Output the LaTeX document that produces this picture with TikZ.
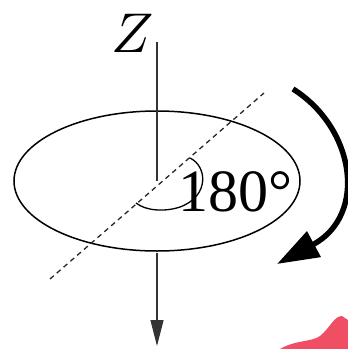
\documentclass[tikz,border=0pt]{standalone}
\usepackage{fontspec}
\setmainfont{Liberation Serif}
\usetikzlibrary{arrows.meta}
\definecolor{blobred}{RGB}{240,78,100}
\begin{document}
\begin{tikzpicture}[x=1pt,y=-1pt,
  thinline/.style={line width=1.5pt,black},
  axisline/.style={line width=1.3pt,black!80},
  dashline/.style={line width=1.3pt,black!85,dash pattern=on 5pt off 4pt},
  bigarrow/.style={line width=5.5pt,black,-{Triangle[length=42pt,width=28pt]}},
  lbl/.style={inner sep=0pt}]
\useasboundingbox (0,0) rectangle (348,349);
% red blob (corner artifact)
\fill[blobred] (280,349) .. controls (295,340) and (312,342) .. (320,336)
  .. controls (330,328) and (334,316) .. (342,316) -- (348,320) -- (348,349) -- cycle;
% coordinates
\coordinate (O) at (157,181);
\coordinate (top) at (157,42);
\coordinate (bot) at (157,253);
\coordinate (tip) at (157,346);
\coordinate (d1) at (50,279);
\coordinate (d2) at (264,93);
% ellipse
\draw[thinline] (O) ellipse [x radius=143, y radius=70];
% axis
\draw[axisline] (top) -- (O);
\draw[axisline,-{Triangle[length=26pt,width=13pt]}] (bot) -- (tip);
% dashed axis
\draw[dashline] (d1) -- (d2);
% angle arc
\coordinate (a1) at (190,158);
\coordinate (a2) at (136,203);
\draw[line width=1.3pt] (a1) .. controls (207,166) and (210,196) .. (180,207)
  .. controls (165,212) and (146,211) .. (a2);
% labels
\node[lbl,scale=5.6] (Z) at (133,33) {$Z$};
\node[lbl] (deg) at (235,192) {\fontsize{60}{64}\selectfont 180°};
% curved arrow
\coordinate (c1) at (293,89);
\coordinate (c2) at (277,264);
\draw[bigarrow] (c1) .. controls (355,128) and (368,215) .. (c2);
\end{tikzpicture}
\end{document}
